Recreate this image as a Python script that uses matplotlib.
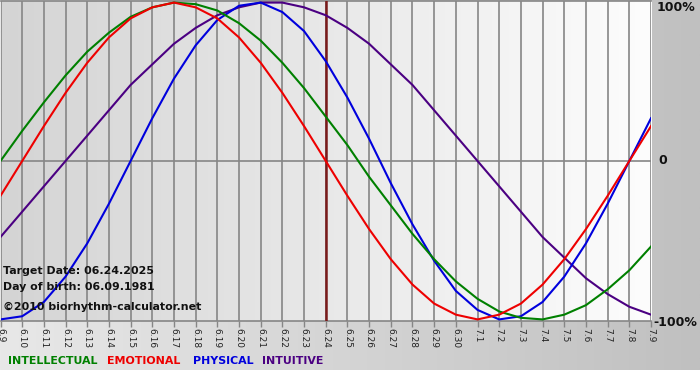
import numpy as np
import matplotlib
matplotlib.use("Agg")
import matplotlib.pyplot as plt
from matplotlib.colors import LinearSegmentedColormap

# ---- data ----
dates = ["6.9", "6.10", "6.11", "6.12", "6.13", "6.14", "6.15", "6.16", "6.17", "6.18",
         "6.19", "6.20", "6.21", "6.22", "6.23", "6.24", "6.25", "6.26", "6.27", "6.28",
         "6.29", "6.30", "7.1", "7.2", "7.3", "7.4", "7.5", "7.6", "7.7", "7.8", "7.9"]

physical = [-1.00, -0.98, -0.89, -0.73, -0.52, -0.27, 0.00, 0.27, 0.52, 0.73,
            0.89, 0.98, 1.00, 0.94, 0.82, 0.63, 0.40, 0.14, -0.14, -0.40,
            -0.63, -0.82, -0.94, -1.00, -0.98, -0.89, -0.73, -0.52, -0.27, 0.00, 0.27]

emotional = [-0.22, 0.00, 0.22, 0.43, 0.62, 0.78, 0.90, 0.97, 1.00, 0.97,
             0.90, 0.78, 0.62, 0.43, 0.22, 0.00, -0.22, -0.43, -0.62, -0.78,
             -0.90, -0.97, -1.00, -0.97, -0.90, -0.78, -0.62, -0.43, -0.22, 0.00, 0.22]

intellectual = [0.00, 0.19, 0.37, 0.54, 0.69, 0.81, 0.91, 0.97, 1.00, 0.99,
                0.95, 0.87, 0.76, 0.62, 0.46, 0.28, 0.10, -0.10, -0.28, -0.46,
                -0.62, -0.76, -0.87, -0.95, -0.99, -1.00, -0.97, -0.91, -0.81, -0.69, -0.54]

intuitive = [-0.48, -0.32, -0.16, 0.00, 0.16, 0.32, 0.48, 0.61, 0.74, 0.84,
             0.92, 0.97, 1.00, 1.00, 0.97, 0.92, 0.84, 0.74, 0.61, 0.48,
             0.32, 0.16, 0.00, -0.16, -0.32, -0.48, -0.61, -0.74, -0.84, -0.92, -0.97]

target_index = 15  # 6.24
y_labels = ["100%", "0", "-100%"]
legend_names = ["INTELLECTUAL", "EMOTIONAL", "PHYSICAL", "INTUITIVE"]
info_lines = ["Target Date: 06.24.2025", "Day of birth: 06.09.1981", "\u00a92010 biorhythm-calculator.net"]

# ---- styles ----
C_INT = "#008000"
C_EMO = "#ee0000"
C_PHY = "#0000dd"
C_ITU = "#4b0082"

W, H = 700, 380
fig = plt.figure(figsize=(W / 100, H / 100), dpi=100)
fig.patch.set_facecolor("white")

# figure background gradient
bg = fig.add_axes([0, 10 / H, 1, 370 / H], zorder=-10)
cm_bg = LinearSegmentedColormap.from_list("bg", ["#e8e8e8", "#c0c0c0"])
bg.imshow(np.linspace(0, 1, 256)[None, :], aspect="auto", cmap=cm_bg,
          extent=[0, 1, 0, 1])
bg.set_axis_off()

ax_left, ax_right = 0.5 / W, 651 / W
ax_top, ax_bot = 1 - 1 / H, 1 - 321 / H
ax = fig.add_axes([ax_left, ax_bot, ax_right - ax_left, ax_top - ax_bot], zorder=1)
ax.set_facecolor("none")

n = len(dates)
x = np.arange(n)
ylo, yhi = -1.01, 1.01
ax.set_xlim(0, n - 1)
ax.set_ylim(ylo, yhi)

cm_pl = LinearSegmentedColormap.from_list("pl", ["#d4d4d4", "#fdfdfd"])
ax.imshow(np.linspace(0, 1, 256)[None, :], aspect="auto", cmap=cm_pl,
          extent=[0, n - 1, ylo, yhi], zorder=0)

for xi in x:
    ax.axvline(xi, color="#868686", lw=1.2, zorder=1)
ax.axhline(0, color="#868686", lw=1.2, zorder=1)

ax.axvline(target_index, color="#7a1a1a", lw=1.8, zorder=3)

lw = 1.5
ax.plot(x, intuitive, color=C_ITU, lw=lw, zorder=4, solid_joinstyle="round")
ax.plot(x, physical, color=C_PHY, lw=lw, zorder=4, solid_joinstyle="round")
ax.plot(x, intellectual, color=C_INT, lw=lw, zorder=4, solid_joinstyle="round")
ax.plot(x, emotional, color=C_EMO, lw=lw, zorder=4, solid_joinstyle="round")

ax.set_xticks(x)
ax.set_xticklabels(dates, rotation=-90, fontsize=6.5, color="#222222")
ax.tick_params(axis="x", direction="out", length=4, width=1, color="#868686", pad=1)
ax.set_yticks([])
for s in ["left", "right"]:
    ax.spines[s].set_visible(False)
for s in ["top", "bottom"]:
    ax.spines[s].set_color("#868686")
    ax.spines[s].set_linewidth(1.2)

# right labels
fig.text(657 / W, 1 - 1 / H, y_labels[0], ha="left", va="top", fontsize=9,
         fontweight="bold", color="#111111")
fig.text(658 / W, 1 - 161 / H, y_labels[1], ha="left", va="center", fontsize=9,
         fontweight="bold", color="#111111")
fig.text(653 / W, 1 - 322 / H, y_labels[2], ha="left", va="center", fontsize=9,
         fontweight="bold", color="#111111")

# info texts
for txt, yy in zip(info_lines, [271, 287, 307]):
    fig.text(3 / W, 1 - yy / H, txt, ha="left", va="center", fontsize=7.9,
             fontweight="bold", color="#111111", zorder=5)

# legend row
for name, col, xx in zip(legend_names, [C_INT, C_EMO, C_PHY, C_ITU], [8, 107, 193, 262]):
    fig.text(xx / W, 1 - 361 / H, name, ha="left", va="center", fontsize=7.9,
             fontweight="bold", color=col)

fig.savefig("out.png", dpi=100, facecolor=fig.get_facecolor())
